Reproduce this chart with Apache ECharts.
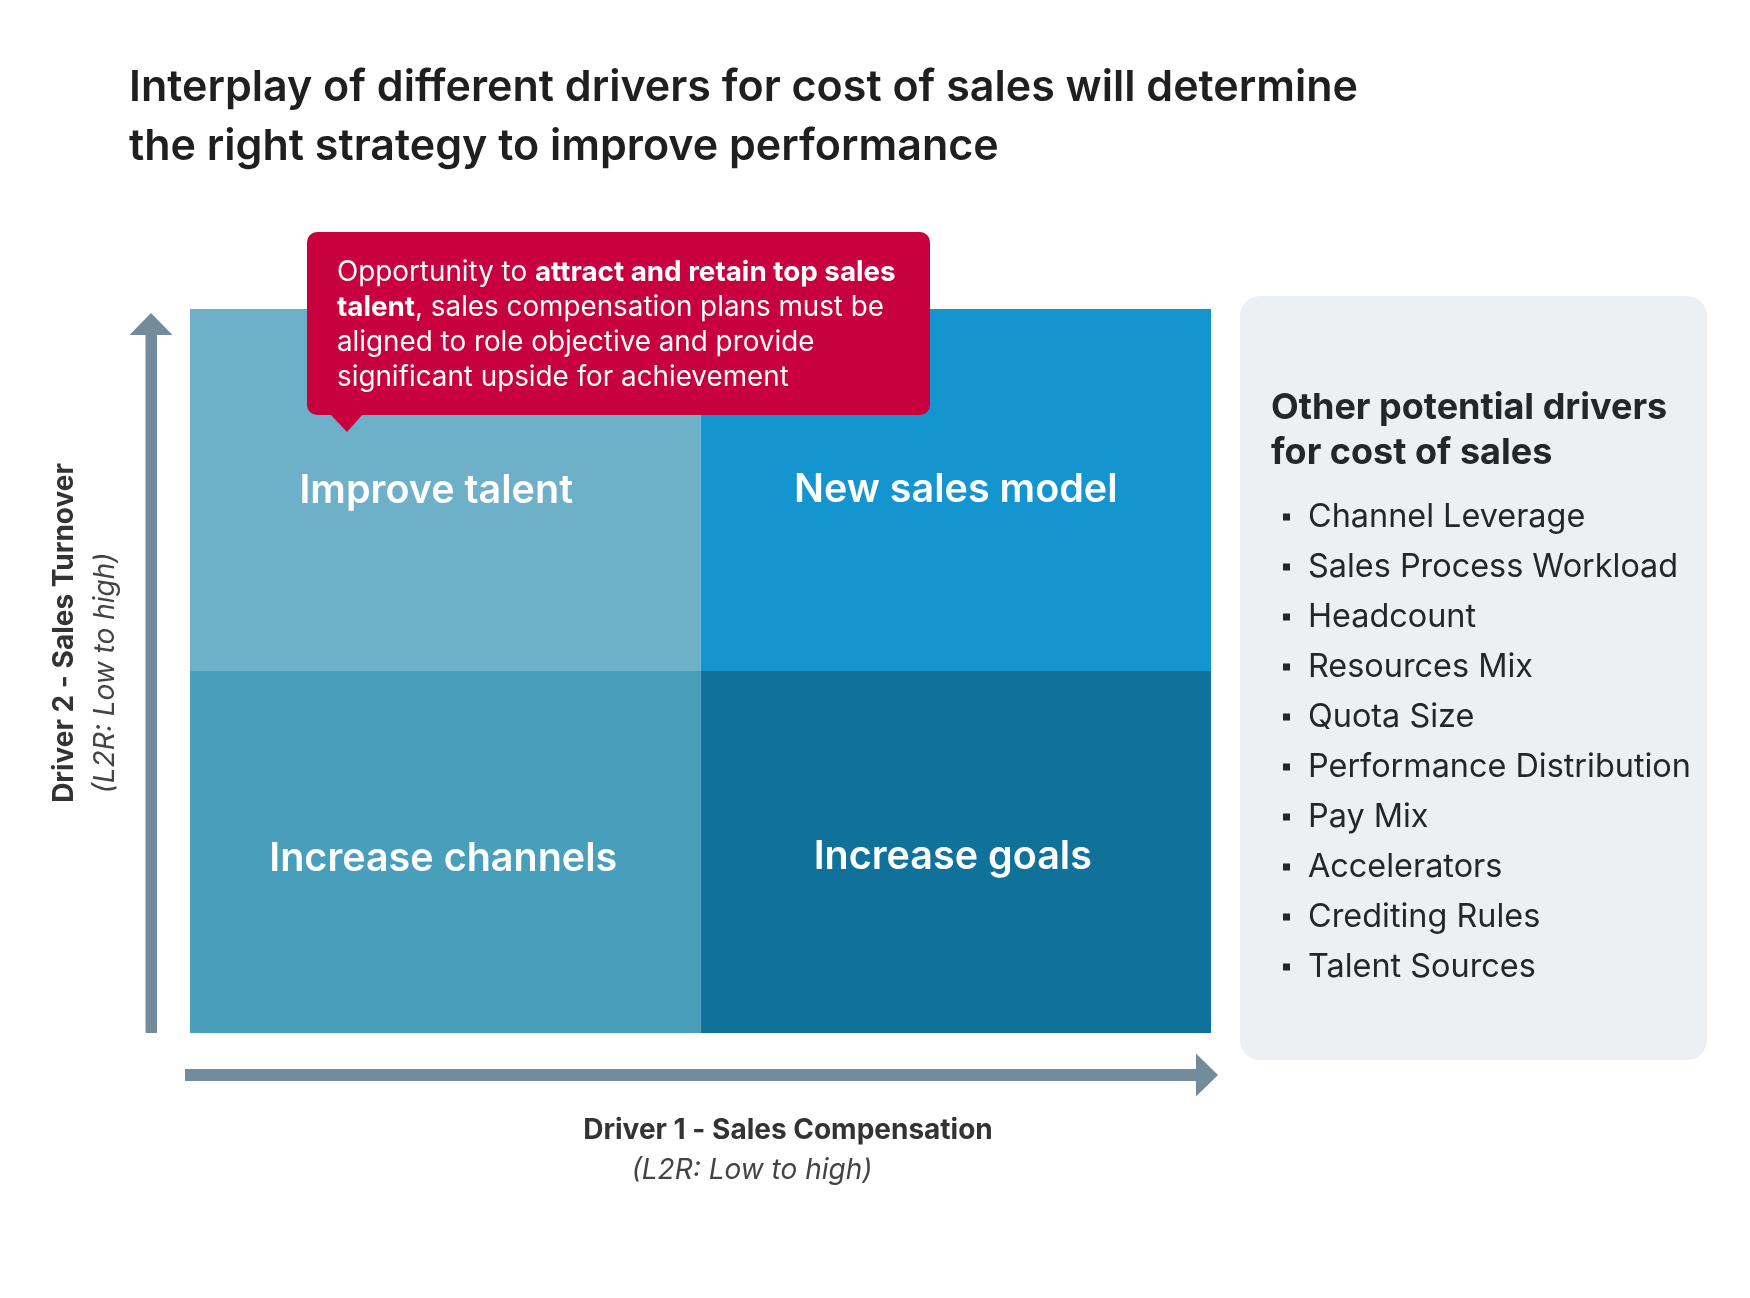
<!DOCTYPE html>
<html>
<head>
<meta charset="utf-8">
<script src="https://cdn.jsdelivr.net/npm/echarts@6/dist/echarts.min.js"></script>
<style>
  html, body { margin: 0; padding: 0; background: #fff; }
  #main { width: 1750px; height: 1298px; }
</style>
</head>
<body>
<div id="main"></div>
<script>
// levels of the two drivers
var driver1Levels = ['Low', 'High'];   // Sales Compensation (x)
var driver2Levels = ['Low', 'High'];   // Sales Turnover (y)

// quadrants: [driver1 level index, driver2 level index]
var quadrantNames = ['Increase channels', 'Increase goals', 'Improve talent', 'New sales model'];
var quadrantX = [0, 1, 0, 1];
var quadrantY = [0, 0, 1, 1];

// other potential drivers listed in the side panel
var otherDrivers = [
  'Channel Leverage',
  'Sales Process Workload',
  'Headcount',
  'Resources Mix',
  'Quota Size',
  'Performance Distribution',
  'Pay Mix',
  'Accelerators',
  'Crediting Rules',
  'Talent Sources'
];

var quadColors = ['#489FBB', '#10719B', '#6DB0C8', '#1595CF'];
// small nudges of the quadrant labels, in px
var labelNudge = [[-2, 7], [-3, 5], [-9, 1], [0, 0]];
var arrowColor = '#728C9D';
var darkText = '#23262a';
var font = 'Inter, "Noto Sans", sans-serif';

var myChart = echarts.init(document.getElementById('main'));

var cells = quadrantNames.map(function (name, i) {
  return { value: [quadrantX[i], quadrantY[i]], name: name };
});

// side panel pieces
var panelItems = [];
otherDrivers.forEach(function (d, i) {
  var cy = 517 + i * 50;
  panelItems.push({
    type: 'rect',
    shape: { x: 1283, y: cy - 3.5, width: 7, height: 7 },
    style: { fill: darkText }
  });
  panelItems.push({
    type: 'text',
    x: 1308, y: cy,
    style: {
      text: d, font: '400 32.4px ' + font, fill: darkText,
      verticalAlign: 'middle', align: 'left'
    }
  });
});

var option = {
  backgroundColor: '#fff',
  animation: false,
  title: {
    text: 'Interplay of different drivers for cost of sales will determine\nthe right strategy to improve performance',
    left: 124,
    top: 54,
    textStyle: {
      fontFamily: font, fontSize: 43, fontWeight: 600,
      color: '#1f1f1f', lineHeight: 59
    }
  },
  grid: { left: 190, top: 309, width: 1021, height: 724 },
  xAxis: {
    type: 'category',
    data: driver1Levels,
    show: false
  },
  yAxis: {
    type: 'category',
    data: driver2Levels,
    show: false
  },
  series: [{
    type: 'custom',
    data: cells,
    renderItem: function (params, api) {
      var c = api.coord([api.value(0), api.value(1)]);
      var s = api.size([1, 1]);
      return {
        type: 'rect',
        shape: { x: c[0] - s[0] / 2, y: c[1] - s[1] / 2, width: s[0], height: s[1] },
        style: { fill: quadColors[params.dataIndex] },
        textContent: {
          style: {
            text: quadrantNames[params.dataIndex],
            fill: '#fff',
            font: '600 39.5px ' + font
          }
        },
        textConfig: { position: 'inside', offset: labelNudge[params.dataIndex] }
      };
    }
  }],
  graphic: [
    // vertical arrow
    { type: 'rect', shape: { x: 145.5, y: 333, width: 11.5, height: 700 }, style: { fill: arrowColor } },
    { type: 'polygon', shape: { points: [[129.5, 335], [172.5, 335], [151, 313]] }, style: { fill: arrowColor } },
    // horizontal arrow
    { type: 'rect', shape: { x: 185, y: 1069, width: 1013, height: 12 }, style: { fill: arrowColor } },
    { type: 'polygon', shape: { points: [[1196, 1053.5], [1196, 1096.5], [1218, 1075]] }, style: { fill: arrowColor } },
    // axis titles
    {
      type: 'text', x: 65, y: 633, rotation: Math.PI / 2,
      style: { text: 'Driver 2 - Sales Turnover', font: '700 28px ' + font, fill: '#333', align: 'center', verticalAlign: 'middle' }
    },
    {
      type: 'text', x: 106, y: 673, rotation: Math.PI / 2,
      style: { text: '(L2R: Low to high)', font: 'italic 400 28px ' + font, fill: '#444', align: 'center', verticalAlign: 'middle' }
    },
    {
      type: 'text', x: 788, y: 1131,
      style: { text: 'Driver 1 - Sales Compensation', font: '700 28px ' + font, fill: '#333', align: 'center', verticalAlign: 'middle' }
    },
    {
      type: 'text', x: 752, y: 1171,
      style: { text: '(L2R: Low to high)', font: 'italic 400 28px ' + font, fill: '#444', align: 'center', verticalAlign: 'middle' }
    },
    // callout
    { type: 'rect', shape: { x: 307, y: 232, width: 623, height: 183, r: 10 }, style: { fill: '#C8003D' }, z: 10 },
    { type: 'polygon', shape: { points: [[330, 414], [363, 414], [347, 432]] }, style: { fill: '#C8003D' }, z: 10 },
    {
      type: 'text', x: 337, y: 255, z: 11,
      style: {
        text: '{r|Opportunity to }{b|attract and retain top sales}\n{b|talent}{r|, sales compensation plans must be}\n{r|aligned to role objective and provide}\n{r|significant upside for achievement}',
        fill: '#fff',
        rich: {
          r: { font: '400 27.8px ' + font, fill: '#fff', lineHeight: 35 },
          b: { font: '700 27.8px ' + font, fill: '#fff', lineHeight: 35 }
        }
      }
    },
    // side panel
    { type: 'rect', shape: { x: 1240, y: 296, width: 467, height: 764, r: 20 }, style: { fill: '#EDF0F2' } },
    {
      type: 'text', x: 1271, y: 386,
      style: {
        text: 'Other potential drivers\nfor cost of sales',
        font: '700 36px ' + font, fill: darkText, lineHeight: 45
      }
    }
  ].concat(panelItems)
};

myChart.setOption(option);
window.addEventListener('resize', function () {
  myChart.resize();
});
</script>
</body>
</html>
